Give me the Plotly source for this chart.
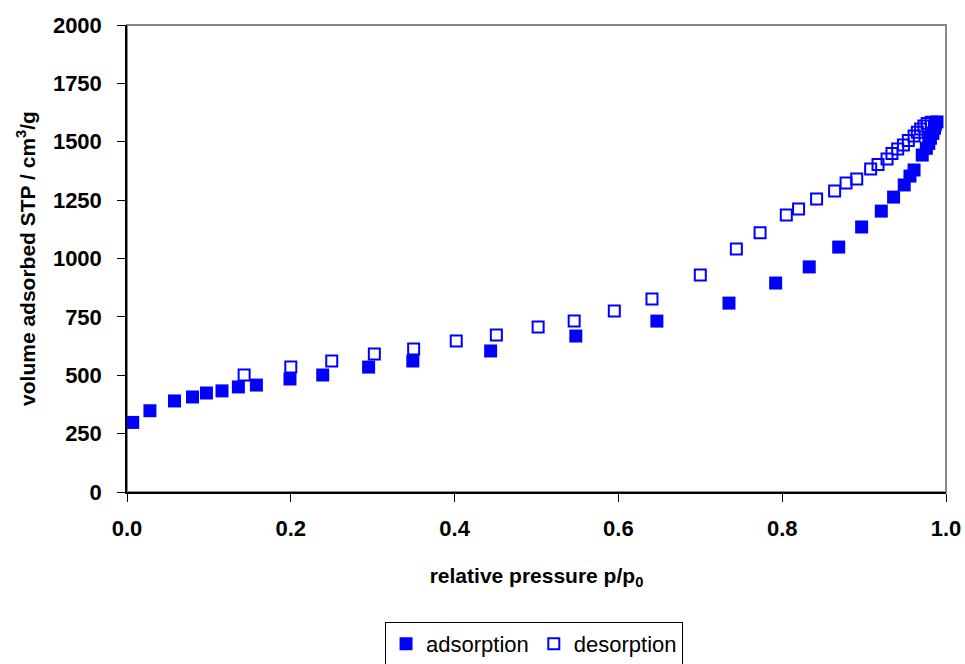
import plotly.graph_objects as go

# adsorption branch (relative pressure, volume adsorbed)
ads_p = [0.007, 0.028, 0.058, 0.080, 0.097, 0.116, 0.136, 0.158, 0.199, 0.239,
         0.295, 0.349, 0.444, 0.548, 0.647, 0.735, 0.792, 0.833, 0.869, 0.897,
         0.921, 0.936, 0.949, 0.956, 0.961, 0.971, 0.976, 0.979, 0.981, 0.984,
         0.986, 0.987, 0.989]
ads_v = [298, 348, 390, 407, 424, 433, 450, 458, 484, 501,
         535, 561, 604, 668, 732, 809, 895, 964, 1049, 1135,
         1203, 1263, 1315, 1353, 1379, 1443, 1472, 1493, 1515, 1536,
         1558, 1573, 1585]

# desorption branch
des_p = [0.982, 0.977, 0.973, 0.969, 0.965, 0.961, 0.954, 0.948, 0.941, 0.934,
         0.928, 0.917, 0.908, 0.891, 0.878, 0.864, 0.842, 0.820, 0.805, 0.773,
         0.744, 0.700, 0.641, 0.595, 0.546, 0.502, 0.451, 0.402, 0.350, 0.302,
         0.250, 0.200, 0.143]
des_v = [1583, 1578, 1567, 1555, 1541, 1525, 1505, 1486, 1469, 1450,
         1426, 1403, 1383, 1340, 1323, 1289, 1255, 1212, 1186, 1110,
         1041, 929, 827, 775, 732, 707, 672, 647, 612, 591,
         561, 535, 501]

y_ticks = [0, 250, 500, 750, 1000, 1250, 1500, 1750, 2000]
x_ticks = [0.0, 0.2, 0.4, 0.6, 0.8, 1.0]
x_tick_text = ["0.0", "0.2", "0.4", "0.6", "0.8", "1.0"]

FONT = "Arial, Liberation Sans, sans-serif"
BLUE = "#0000FF"

fig = go.Figure()
fig.add_trace(go.Scatter(
    x=ads_p, y=ads_v, mode="markers", name="adsorption",
    marker=dict(symbol="square", size=13, color=BLUE, line=dict(width=0)),
))
fig.add_trace(go.Scatter(
    x=des_p, y=des_v, mode="markers", name="desorption",
    marker=dict(symbol="square-open", size=11, color=BLUE, line=dict(width=2, color=BLUE)),
))

fig.add_shape(type="rect", xref="paper", yref="paper", x0=0, x1=1, y0=0, y1=1,
              line=dict(color="#888888", width=2), layer="below")

fig.update_layout(
    width=965, height=664,
    margin=dict(l=127, r=19, t=25, b=172, autoexpand=False),
    plot_bgcolor="white", paper_bgcolor="white",
    font=dict(family=FONT, color="black"),
    showlegend=True,
    legend=dict(
        orientation="h", x=0.497, xanchor="center", y=-0.278, yanchor="top",
        bordercolor="black", borderwidth=1,
        font=dict(family=FONT, size=22, color="black"),
        itemwidth=30, tracegroupgap=0,
    ),
    xaxis=dict(
        range=[0, 1], tickvals=x_ticks, ticktext=x_tick_text,
        showgrid=False, zeroline=False,
        showline=True, linecolor="black", linewidth=1.5,
        ticks="outside", ticklen=8, tickcolor="black", tickwidth=1,
        tickfont=dict(family=FONT, size=22, color="black", weight="bold"),
        ticklabelstandoff=8,
        title=dict(text="relative pressure p/p<sub>0</sub>",
                   font=dict(family=FONT, size=21, color="black", weight="bold"),
                   standoff=28),
    ),
    yaxis=dict(
        range=[0, 2000], tickvals=y_ticks,
        showgrid=False, zeroline=False,
        showline=True, linecolor="black", linewidth=1.5,
        ticks="outside", ticklen=8, tickcolor="black", tickwidth=1,
        tickfont=dict(family=FONT, size=22, color="black", weight="bold"),
        ticklabelstandoff=11,
        title=dict(text="volume adsorbed STP / cm<sup>3</sup>/g",
                   font=dict(family=FONT, size=21, color="black", weight="bold"),
                   standoff=12),
    ),
)

fig.write_html("out.html", config={"displayModeBar": False},
               post_script="document.body.style.margin='0';")
